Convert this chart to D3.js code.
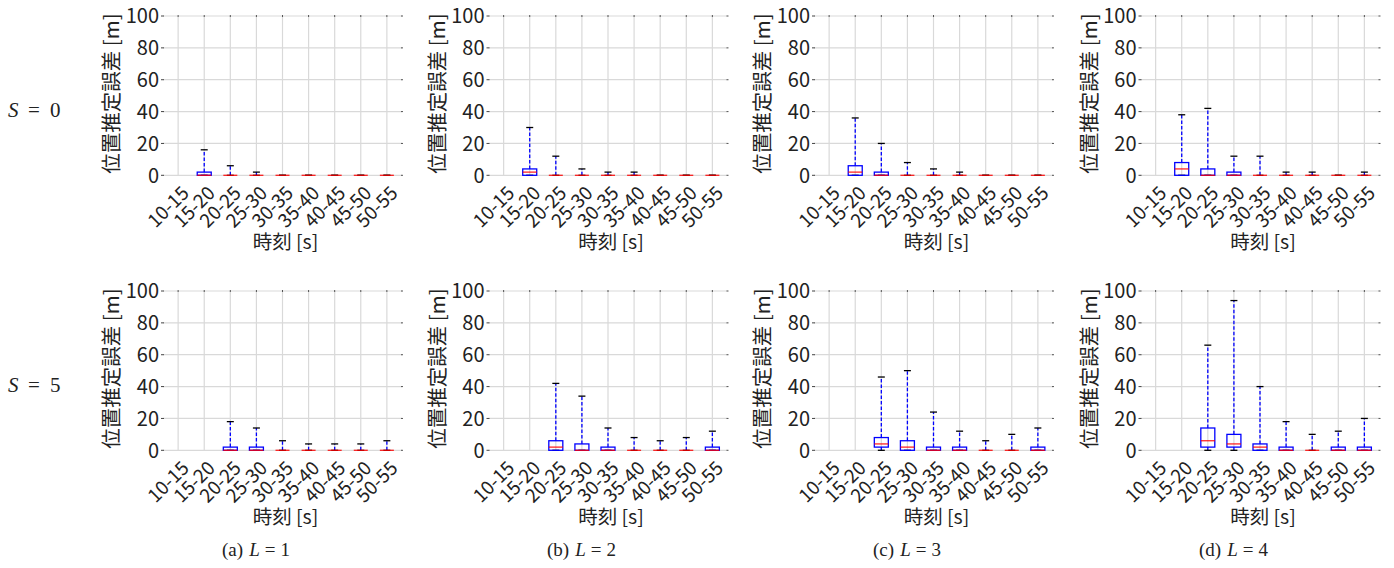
<!DOCTYPE html>
<html>
<head>
<meta charset="utf-8">
<script src="https://cdn.jsdelivr.net/npm/d3@7/dist/d3.min.js"></script>
<style>
  html, body { margin: 0; padding: 0; background: #fff; }
  svg { display: block; }
</style>
</head>
<body>
<svg id="chart" width="1394" height="568"></svg>
<script>
// ---------- data ----------
const categories = ["10-15","15-20","20-25","25-30","30-35","35-40","40-45","45-50","50-55"];
const yTicks = [0, 20, 40, 60, 80, 100];
const rowLabels = ["0", "5"];          // S values
const colLabels = ["a", "b", "c", "d"]; // captions, L = 1..4
// each entry: [lowerWhisker, q1, median, q3, upperWhisker] or null (no data)
const s0L1 = [null,[0,0,0,2,16],[0,0,0,0,6],[0,0,0,0,2],[0,0,0,0,0],[0,0,0,0,0],[0,0,0,0,0],[0,0,0,0,0],[0,0,0,0,0]];
const s0L2 = [null,[0,0,2,4,30],[0,0,0,0,12],[0,0,0,0,4],[0,0,0,0,2],[0,0,0,0,2],[0,0,0,0,0],[0,0,0,0,0],[0,0,0,0,0]];
const s0L3 = [null,[0,0,2,6,36],[0,0,0,2,20],[0,0,0,0,8],[0,0,0,0,4],[0,0,0,0,2],[0,0,0,0,0],[0,0,0,0,0],[0,0,0,0,0]];
const s0L4 = [null,[0,0,4,8,38],[0,0,0,4,42],[0,0,0,2,12],[0,0,0,0,12],[0,0,0,0,2],[0,0,0,0,2],[0,0,0,0,0],[0,0,0,0,2]];
const s5L1 = [null,null,[0,0,0,2,18],[0,0,0,2,14],[0,0,0,0,6],[0,0,0,0,4],[0,0,0,0,4],[0,0,0,0,4],[0,0,0,0,6]];
const s5L2 = [null,null,[0,0,2,6,42],[0,0,0,4,34],[0,0,0,2,14],[0,0,0,0,8],[0,0,0,0,6],[0,0,0,0,8],[0,0,0,2,12]];
const s5L3 = [null,null,[0,2,4,8,46],[0,0,2,6,50],[0,0,0,2,24],[0,0,0,2,12],[0,0,0,0,6],[0,0,0,0,10],[0,0,0,2,14]];
const s5L4 = [null,null,[0,2,6,14,66],[0,2,4,10,94],[0,0,2,4,40],[0,0,0,2,18],[0,0,0,0,10],[0,0,0,2,12],[0,0,0,2,20]];
const panels = [[s0L1, s0L2, s0L3, s0L4], [s5L1, s5L2, s5L3, s5L4]];

// ---------- layout ----------
const svg = d3.select("#chart");
svg.append("rect").attr("width", 1394).attr("height", 568).attr("fill", "#fff");
const plotLefts = [163, 488.5, 814, 1140.5];
const plotW = 239;
const rowTops = [16, 291];
const plotH = 159.3;
const fontJP = "'Noto Sans CJK JP', 'Noto Sans', sans-serif";
const fontSerif = "'Liberation Serif', 'DejaVu Serif', serif";

panels.forEach((row, ri) => {
  row.forEach((data, ci) => {
    const left = plotLefts[ci], top = rowTops[ri];
    const x = d3.scalePoint().domain(categories).range([left, left + plotW]).padding(0.58);
    const y = d3.scaleLinear().domain([0, 100]).range([top + plotH, top]);
    const g = svg.append("g");

    // grid
    g.selectAll(".hg").data(yTicks).enter().append("line")
      .attr("x1", left).attr("x2", left + plotW)
      .attr("y1", d => y(d)).attr("y2", d => y(d))
      .attr("stroke", "#d9d9d9").attr("stroke-width", 1.2);
    g.selectAll(".vg").data(categories).enter().append("line")
      .attr("x1", d => x(d)).attr("x2", d => x(d))
      .attr("y1", y(0)).attr("y2", y(100))
      .attr("stroke", "#d9d9d9").attr("stroke-width", 1.2);

    // tiny tick marks (left, right, top)
    g.selectAll(".tl").data(yTicks).enter().append("line")
      .attr("x1", left - 2).attr("x2", left + 1)
      .attr("y1", d => y(d)).attr("y2", d => y(d))
      .attr("stroke", "#444").attr("stroke-width", 1);
    g.selectAll(".tr").data(yTicks).enter().append("line")
      .attr("x1", left + plotW - 1).attr("x2", left + plotW + 1)
      .attr("y1", d => y(d)).attr("y2", d => y(d))
      .attr("stroke", "#555").attr("stroke-width", 1);
    g.selectAll(".tt").data(categories).enter().append("line")
      .attr("x1", d => x(d)).attr("x2", d => x(d))
      .attr("y1", y(100) - 1).attr("y2", y(100) + 1)
      .attr("stroke", "#555").attr("stroke-width", 1);

    // y tick labels
    g.selectAll(".yl").data(yTicks).enter().append("text")
      .attr("x", left - 4).attr("y", d => y(d))
      .attr("dy", "0.36em").attr("text-anchor", "end")
      .attr("font-family", fontJP).attr("font-size", 20).attr("fill", "#222")
      .text(d => d);

    // x tick labels (rotated)
    g.selectAll(".xl").data(categories).enter().append("text")
      .attr("transform", d => `translate(${x(d) + 12},${y(0) + 19}) rotate(-45)`)
      .attr("text-anchor", "end")
      .attr("font-family", fontJP).attr("font-size", 19).attr("fill", "#222")
      .text(d => d);

    // axis titles
    g.append("text")
      .attr("transform", `translate(${left - 44},${top + plotH / 2 - 2}) rotate(-90)`)
      .attr("text-anchor", "middle")
      .attr("font-family", fontJP).attr("font-size", 20.5).attr("fill", "#222")
      .text("位置推定誤差 [m]");
    g.append("text")
      .attr("x", left + plotW / 2 + 3).attr("y", y(0) + 74)
      .attr("text-anchor", "middle")
      .attr("font-family", fontJP).attr("font-size", 19.5).attr("fill", "#222")
      .text("時刻 [s]");

    // box plots
    const bw = 14, cw = 7;
    const items = categories.map((c, i) => ({ c, s: data[i] })).filter(d => d.s);
    const bg = g.append("g");
    items.forEach(d => {
      const [lo, q1, med, q3, hi] = d.s, cx = x(d.c);
      // whiskers
      if (hi > q3) bg.append("line").attr("x1", cx).attr("x2", cx)
        .attr("y1", y(q3)).attr("y2", y(hi))
        .attr("stroke", "#0000ff").attr("stroke-width", 1.3).attr("stroke-dasharray", "3.5,2");
      if (q1 > lo) bg.append("line").attr("x1", cx).attr("x2", cx)
        .attr("y1", y(lo)).attr("y2", y(q1))
        .attr("stroke", "#0000ff").attr("stroke-width", 1.3).attr("stroke-dasharray", "3.5,2");
      // caps
      [lo, hi].forEach(v => bg.append("line")
        .attr("x1", cx - cw / 2).attr("x2", cx + cw / 2)
        .attr("y1", y(v)).attr("y2", y(v))
        .attr("stroke", "#000").attr("stroke-width", 1.3));
      // box
      bg.append("rect")
        .attr("x", cx - bw / 2).attr("width", bw)
        .attr("y", y(q3)).attr("height", Math.max(0, y(q1) - y(q3)))
        .attr("fill", "none").attr("stroke", "#0000ff").attr("stroke-width", 1.3);
      // median
      bg.append("line")
        .attr("x1", cx - bw / 2).attr("x2", cx + bw / 2)
        .attr("y1", y(med)).attr("y2", y(med))
        .attr("stroke", "#ff0000").attr("stroke-width", 1.3).attr("opacity", 0.85);
    });

    // captions under the bottom row
    if (ri === 1) {
      const t = svg.append("text")
        .attr("x", left + 93).attr("y", 556)
        .attr("text-anchor", "middle")
        .attr("font-family", fontSerif).attr("font-size", 19).attr("fill", "#222");
      t.append("tspan").text(`(${colLabels[ci]})`);
      t.append("tspan").attr("dx", 6).attr("font-style", "italic").text("L");
      t.append("tspan").attr("dx", 5).text("=");
      t.append("tspan").attr("dx", 5).text(`${ci + 1}`);
    }
  });

  // row label S = ...
  const baseY = ri === 0 ? 117 : 392;
  const t = svg.append("text").attr("y", baseY)
    .attr("font-family", fontSerif).attr("font-size", 21).attr("fill", "#222");
  t.append("tspan").attr("x", 8).attr("font-style", "italic").text("S");
  t.append("tspan").attr("x", 28).text("=");
  t.append("tspan").attr("x", 50).text(rowLabels[ri]);
});
</script>
</body>
</html>
